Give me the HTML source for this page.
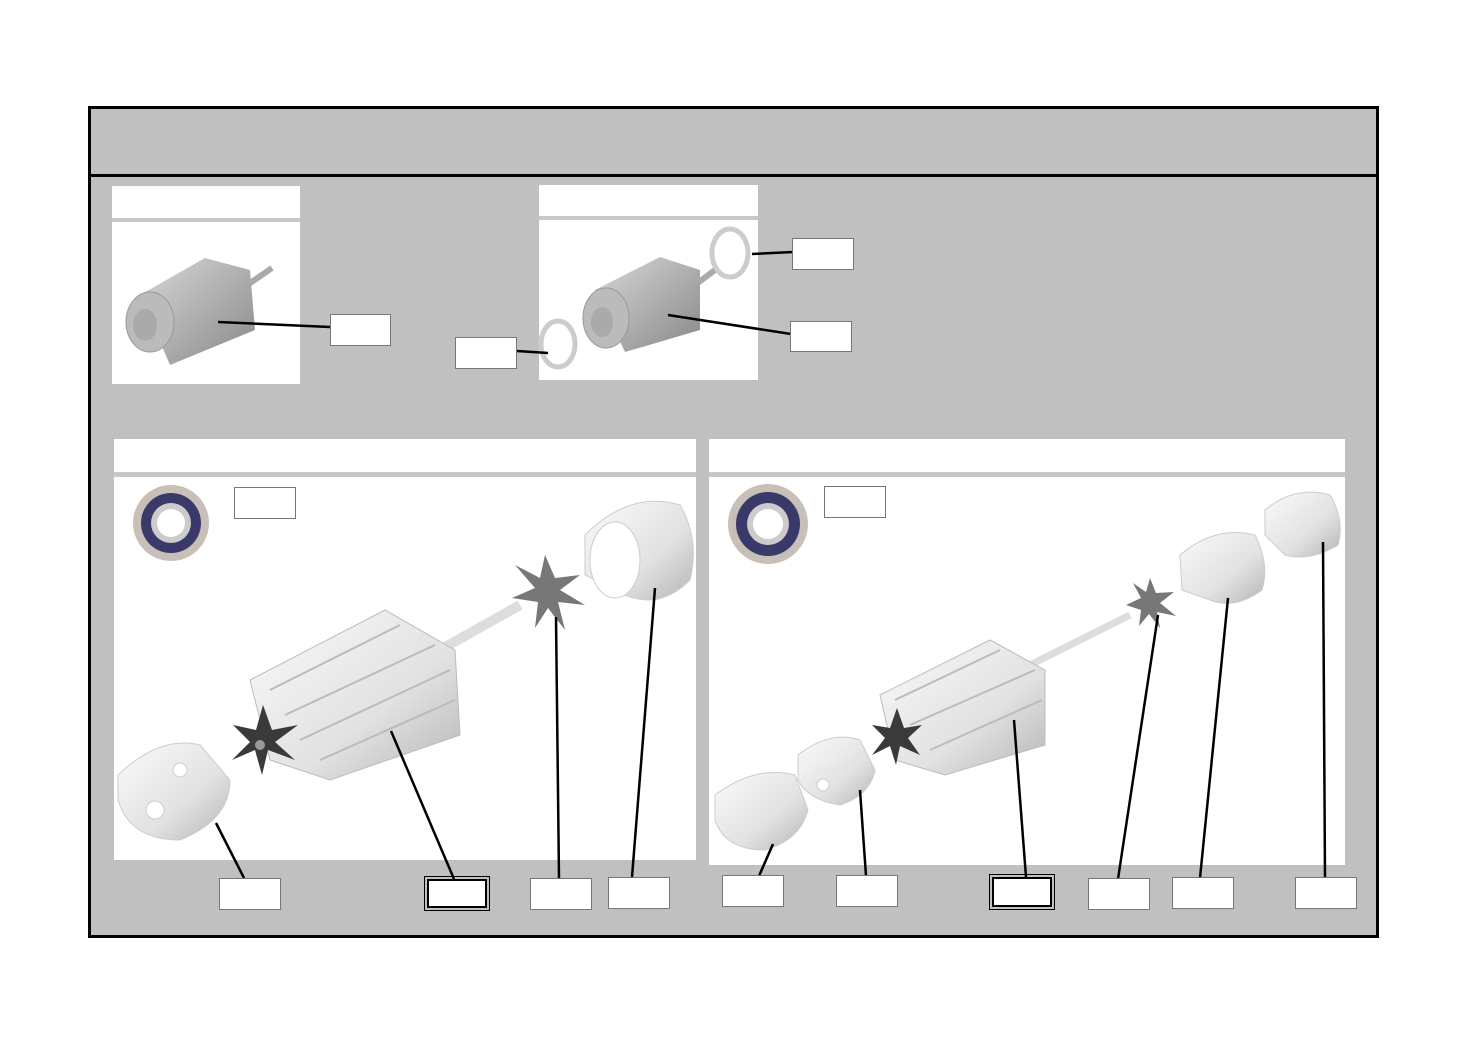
<!DOCTYPE html>
<html><head><meta charset="utf-8"><style>
html,body{margin:0;padding:0;background:#fff;width:1473px;height:1040px;overflow:hidden;font-family:"Liberation Sans",sans-serif}
.a{position:absolute}
.lb{position:absolute;background:#fff;border:1px solid #777;width:60px;height:30px;box-sizing:border-box}
.db{position:absolute;background:#fff;border:2px solid #000;outline:1px solid #000;outline-offset:2px;box-sizing:border-box}
</style></head><body>
<div class="a" style="left:88px;top:106px;width:1291px;height:832px;background:#c0c0c0;border:3px solid #000;box-sizing:border-box"></div>
<div class="a" style="left:88px;top:174px;width:1291px;height:3px;background:#000"></div>

<div class="a" style="left:112px;top:186px;width:188px;height:198px;background:#fff"></div>
<div class="a" style="left:112px;top:218px;width:188px;height:4px;background:#c8c8c8"></div>
<div class="a" style="left:539px;top:185px;width:219px;height:195px;background:#fff"></div>
<div class="a" style="left:539px;top:216px;width:219px;height:4px;background:#c8c8c8"></div>
<div class="a" style="left:114px;top:439px;width:582px;height:421px;background:#fff"></div>
<div class="a" style="left:114px;top:472px;width:582px;height:5px;background:#c8c8c8"></div>
<div class="a" style="left:709px;top:439px;width:636px;height:426px;background:#fff"></div>
<div class="a" style="left:709px;top:472px;width:636px;height:5px;background:#c8c8c8"></div>

<svg class="a" style="left:0;top:0" width="1473" height="1040">
<defs>
<linearGradient id="g1" x1="0" y1="0" x2="1" y2="1"><stop offset="0" stop-color="#d8d8d8"/><stop offset="0.5" stop-color="#b0b0b0"/><stop offset="1" stop-color="#888"/></linearGradient>
<linearGradient id="g2" x1="0" y1="0" x2="1" y2="1"><stop offset="0" stop-color="#fafafa"/><stop offset="0.6" stop-color="#e2e2e2"/><stop offset="1" stop-color="#b5b5b5"/></linearGradient>
<linearGradient id="g3" x1="0" y1="0" x2="1" y2="0"><stop offset="0" stop-color="#aaa"/><stop offset="0.5" stop-color="#f4f4f4"/><stop offset="1" stop-color="#ccc"/></linearGradient>
</defs>
<!-- panel1 motor -->
<line x1="240" y1="290" x2="272" y2="268" stroke="#aaa" stroke-width="6"/>
<polygon points="140,295 205,258 250,270 255,330 170,365" fill="url(#g1)"/>
<ellipse cx="150" cy="322" rx="24" ry="30" fill="#bbb" stroke="#999"/>
<ellipse cx="145" cy="325" rx="12" ry="16" fill="#aaa"/>
<!-- panel2 motor -->
<line x1="695" y1="285" x2="715" y2="270" stroke="#aaa" stroke-width="6"/>
<polygon points="595,290 660,257 700,270 700,330 625,352" fill="url(#g1)"/>
<ellipse cx="606" cy="318" rx="23" ry="30" fill="#bbb" stroke="#999"/>
<ellipse cx="602" cy="322" rx="11" ry="15" fill="#aaa"/>
<ellipse cx="730" cy="253" rx="18" ry="24" fill="none" stroke="#ccc" stroke-width="5"/>
<ellipse cx="558" cy="344" rx="17" ry="23" fill="none" stroke="#ccc" stroke-width="5"/>
<!-- panel3 -->
<circle cx="171" cy="523" r="38" fill="#c8c0b8"/><circle cx="171" cy="523" r="30" fill="#3a3a6a"/><circle cx="171" cy="523" r="20" fill="#ccc"/><circle cx="171" cy="523" r="14" fill="#fff"/>
<line x1="440" y1="650" x2="520" y2="605" stroke="#ddd" stroke-width="10"/>
<polygon points="250,680 385,610 455,650 460,735 330,780 270,760" fill="url(#g2)" stroke="#bbb"/>
<g stroke="#bbb" stroke-width="2"><line x1="270" y1="690" x2="400" y2="625"/><line x1="285" y1="715" x2="435" y2="645"/><line x1="300" y1="740" x2="450" y2="670"/><line x1="320" y1="760" x2="455" y2="700"/></g>
<g fill="#3a3a3a"><polygon points="263,705 272,730 298,725 275,742 295,760 268,750 262,775 255,750 232,760 250,742 233,725 256,730"/></g>
<circle cx="260" cy="745" r="5" fill="#999"/>
<g fill="#777"><polygon points="545,555 555,578 580,575 560,590 585,605 558,602 565,630 548,608 535,628 538,602 512,598 535,588 515,565 540,578"/></g>
<path d="M585,535 Q630,490 680,505 Q700,540 690,580 Q660,610 625,595 L585,575 Z" fill="url(#g2)" stroke="#ccc"/>
<ellipse cx="615" cy="560" rx="25" ry="38" fill="#fff" stroke="#ccc"/>
<path d="M118,775 Q160,735 200,745 L230,780 Q230,820 180,840 Q130,840 118,800 Z" fill="url(#g2)" stroke="#ccc"/>
<circle cx="155" cy="810" r="9" fill="#fff" stroke="#ccc"/><circle cx="180" cy="770" r="7" fill="#fff" stroke="#ccc"/>
<!-- panel4 -->
<circle cx="768" cy="524" r="40" fill="#c8c0b8"/><circle cx="768" cy="524" r="32" fill="#3a3a6a"/><circle cx="768" cy="524" r="21" fill="#ccc"/><circle cx="768" cy="524" r="15" fill="#fff"/>
<line x1="1030" y1="665" x2="1130" y2="615" stroke="#ddd" stroke-width="7"/>
<polygon points="880,695 990,640 1045,670 1045,745 945,775 895,760" fill="url(#g2)" stroke="#bbb"/>
<g stroke="#bbb" stroke-width="2"><line x1="895" y1="700" x2="1000" y2="650"/><line x1="910" y1="725" x2="1035" y2="670"/><line x1="930" y1="750" x2="1042" y2="700"/></g>
<g fill="#3a3a3a"><polygon points="897,708 904,728 922,725 908,738 920,755 900,746 896,765 890,746 872,755 885,738 872,725 890,728"/></g>
<g fill="#777"><polygon points="1150,578 1156,593 1174,592 1160,603 1176,616 1157,612 1160,628 1149,614 1139,626 1141,610 1126,605 1141,598 1133,583 1146,592"/></g>
<path d="M1180,555 Q1215,525 1255,535 Q1270,565 1262,590 Q1235,610 1210,600 L1182,590 Z" fill="url(#g2)" stroke="#ccc"/>
<path d="M1265,510 Q1295,485 1330,495 Q1345,520 1338,545 Q1310,562 1285,555 L1265,535 Z" fill="url(#g2)" stroke="#ccc"/>
<path d="M798,755 Q830,730 860,740 L875,770 Q870,795 840,805 Q808,800 798,780 Z" fill="url(#g2)" stroke="#ccc"/>
<circle cx="823" cy="785" r="6" fill="#fff" stroke="#ccc"/>
<path d="M715,795 Q755,765 795,775 L808,810 Q800,840 765,850 Q725,850 715,820 Z" fill="url(#g2)" stroke="#ccc"/>
<!-- leader lines -->
<g stroke="#000" stroke-width="2.5" fill="none">
<line x1="218" y1="322" x2="330" y2="327"/>
<line x1="517" y1="351" x2="548" y2="353"/>
<line x1="752" y1="254" x2="793" y2="252"/>
<line x1="668" y1="315" x2="791" y2="334"/>
<line x1="216" y1="823" x2="244" y2="878"/>
<line x1="391" y1="731" x2="454" y2="879"/>
<line x1="556" y1="617" x2="559" y2="879"/>
<line x1="655" y1="588" x2="632" y2="877"/>
<line x1="773" y1="844" x2="759" y2="876"/>
<line x1="860" y1="790" x2="866" y2="876"/>
<line x1="1014" y1="720" x2="1026" y2="877"/>
<line x1="1158" y1="615" x2="1118" y2="879"/>
<line x1="1228" y1="598" x2="1200" y2="878"/>
<line x1="1323" y1="542" x2="1325" y2="878"/>
</g>
</svg>

<div class="lb" style="left:330px;top:314px;width:61px;height:32px"></div>
<div class="lb" style="left:455px;top:337px;width:62px;height:32px"></div>
<div class="lb" style="left:792px;top:238px;width:62px;height:32px"></div>
<div class="lb" style="left:790px;top:321px;width:62px;height:31px"></div>
<div class="lb" style="left:234px;top:487px;width:62px;height:32px"></div>
<div class="lb" style="left:824px;top:486px;width:62px;height:32px"></div>
<div class="lb" style="left:219px;top:878px;width:62px;height:32px"></div>
<div class="db" style="left:427px;top:879px;width:60px;height:29px"></div>
<div class="lb" style="left:530px;top:878px;width:62px;height:32px"></div>
<div class="lb" style="left:608px;top:877px;width:62px;height:32px"></div>
<div class="lb" style="left:722px;top:875px;width:62px;height:32px"></div>
<div class="lb" style="left:836px;top:875px;width:62px;height:32px"></div>
<div class="db" style="left:992px;top:877px;width:60px;height:30px"></div>
<div class="lb" style="left:1088px;top:878px;width:62px;height:32px"></div>
<div class="lb" style="left:1172px;top:877px;width:62px;height:32px"></div>
<div class="lb" style="left:1295px;top:877px;width:62px;height:32px"></div>
</body></html>
